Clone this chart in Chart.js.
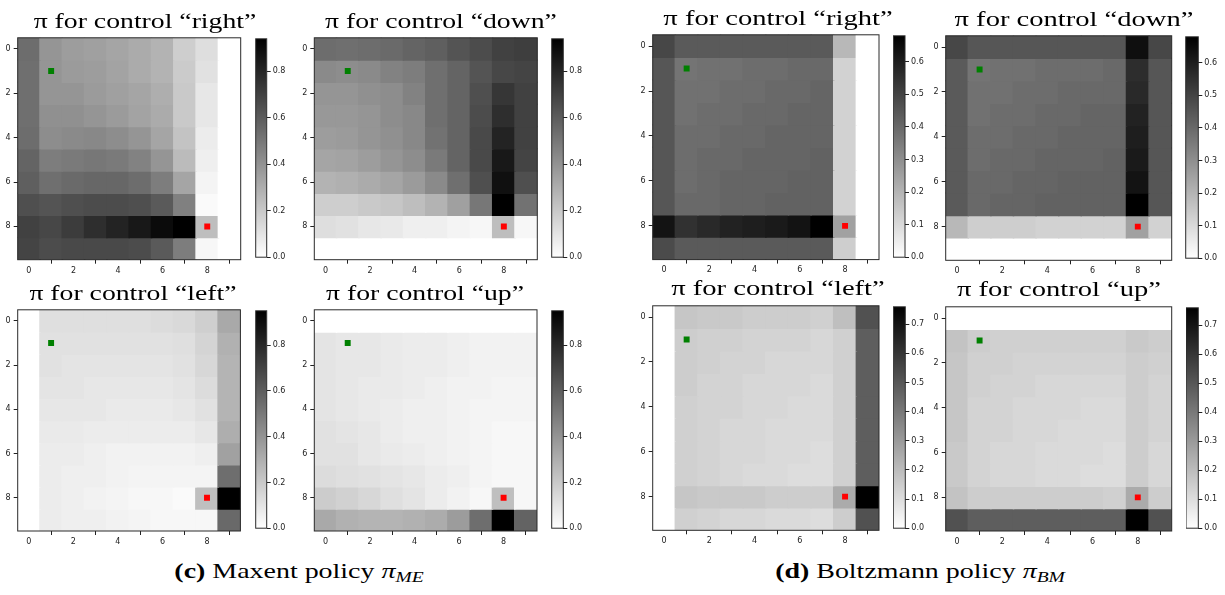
<!DOCTYPE html>
<html>
<head>
<meta charset="utf-8">
<script src="https://cdn.jsdelivr.net/npm/chart.js"></script>
<style>
  body { margin: 0; background: #fff; width: 1225px; height: 595px; position: relative; overflow: hidden; }
  canvas { position: absolute; }
  .caption, .ptitle { position: absolute; font-family: "Liberation Serif", serif; white-space: nowrap; color: #000; }
  .caption { font-size: 21px; line-height: 21px; top: 561px; transform: translateX(-50%) scaleX(1.33); }
  .caption sub { font-size: 0.7em; vertical-align: -0.25em; }
  .ptitle { font-size: 21px; line-height: 21px; }
</style>
</head>
<body>
<div class="caption" style="left:299px"><b>(c)</b> Maxent policy <i>π<sub>ME</sub></i></div>
<div class="caption" style="left:920px"><b>(d)</b> Boltzmann policy <i>π<sub>BM</sub></i></div>
<script>
// grid world 10x10, rows top->bottom, cols left->right
const cols = [0, 1, 2, 3, 4, 5, 6, 7, 8, 9];
const rows = [0, 1, 2, 3, 4, 5, 6, 7, 8, 9];
const gridTicks = [0, 2, 4, 6, 8];
const cbTicksME = [0, 0.2, 0.4, 0.6, 0.8];
const cbTicksBM6 = [0, 0.1, 0.2, 0.3, 0.4, 0.5, 0.6];
const cbTicksBM7 = [0, 0.1, 0.2, 0.3, 0.4, 0.5, 0.6, 0.7];
const startCell = { x: 1, y: 1 };
const goalCell = { x: 8, y: 8 };

// (c) Maxent policy
const piMERight = [
  [0.54, 0.39, 0.36, 0.35, 0.33, 0.31, 0.28, 0.18, 0.12, 0],
  [0.53, 0.39, 0.37, 0.36, 0.34, 0.31, 0.28, 0.19, 0.11, 0],
  [0.53, 0.39, 0.39, 0.37, 0.35, 0.33, 0.30, 0.20, 0.09, 0],
  [0.53, 0.41, 0.41, 0.39, 0.37, 0.34, 0.31, 0.20, 0.09, 0],
  [0.54, 0.42, 0.43, 0.44, 0.42, 0.39, 0.33, 0.22, 0.07, 0],
  [0.57, 0.48, 0.49, 0.50, 0.49, 0.46, 0.39, 0.25, 0.06, 0],
  [0.59, 0.53, 0.55, 0.56, 0.56, 0.54, 0.48, 0.33, 0.04, 0],
  [0.65, 0.63, 0.65, 0.66, 0.66, 0.65, 0.61, 0.47, 0.02, 0],
  [0.70, 0.68, 0.72, 0.77, 0.81, 0.85, 0.90, 0.94, 0.24, 0],
  [0.69, 0.66, 0.67, 0.67, 0.67, 0.66, 0.61, 0.48, 0.03, 0]
];
const piMEDown = [
  [0.54, 0.53, 0.54, 0.55, 0.57, 0.59, 0.63, 0.66, 0.70, 0.71],
  [0.43, 0.42, 0.43, 0.46, 0.48, 0.53, 0.57, 0.63, 0.68, 0.69],
  [0.39, 0.39, 0.41, 0.42, 0.46, 0.53, 0.57, 0.65, 0.74, 0.70],
  [0.38, 0.38, 0.39, 0.42, 0.44, 0.53, 0.57, 0.66, 0.77, 0.70],
  [0.36, 0.37, 0.39, 0.41, 0.44, 0.52, 0.57, 0.67, 0.81, 0.70],
  [0.33, 0.34, 0.36, 0.39, 0.42, 0.49, 0.57, 0.67, 0.85, 0.69],
  [0.28, 0.29, 0.31, 0.33, 0.37, 0.43, 0.53, 0.65, 0.88, 0.65],
  [0.18, 0.18, 0.20, 0.21, 0.24, 0.28, 0.35, 0.50, 0.94, 0.52],
  [0.12, 0.11, 0.09, 0.08, 0.06, 0.06, 0.04, 0.03, 0.24, 0.03],
  [0, 0, 0, 0, 0, 0, 0, 0, 0, 0]
];
const piMELeft = [
  [0, 0.12, 0.12, 0.12, 0.12, 0.12, 0.13, 0.14, 0.18, 0.32],
  [0, 0.11, 0.11, 0.11, 0.11, 0.11, 0.11, 0.12, 0.16, 0.29],
  [0, 0.11, 0.10, 0.10, 0.10, 0.10, 0.10, 0.11, 0.15, 0.28],
  [0, 0.10, 0.10, 0.09, 0.09, 0.09, 0.09, 0.10, 0.13, 0.28],
  [0, 0.09, 0.09, 0.09, 0.08, 0.08, 0.08, 0.09, 0.11, 0.28],
  [0, 0.08, 0.08, 0.07, 0.07, 0.07, 0.07, 0.07, 0.09, 0.30],
  [0, 0.07, 0.07, 0.06, 0.05, 0.05, 0.05, 0.05, 0.06, 0.35],
  [0, 0.07, 0.06, 0.06, 0.05, 0.04, 0.04, 0.04, 0.04, 0.54],
  [0, 0.07, 0.06, 0.05, 0.04, 0.03, 0.03, 0.02, 0.24, 0.95],
  [0, 0.07, 0.06, 0.06, 0.05, 0.04, 0.03, 0.03, 0.03, 0.56]
];
const piMEUp = [
  [0, 0, 0, 0, 0, 0, 0, 0, 0, 0],
  [0.10, 0.09, 0.09, 0.08, 0.07, 0.07, 0.06, 0.05, 0.05, 0.05],
  [0.10, 0.09, 0.09, 0.08, 0.07, 0.07, 0.06, 0.05, 0.05, 0.05],
  [0.10, 0.09, 0.08, 0.08, 0.07, 0.06, 0.05, 0.05, 0.04, 0.04],
  [0.10, 0.09, 0.08, 0.07, 0.06, 0.06, 0.05, 0.04, 0.04, 0.04],
  [0.11, 0.10, 0.09, 0.07, 0.06, 0.06, 0.05, 0.04, 0.03, 0.03],
  [0.11, 0.11, 0.09, 0.08, 0.07, 0.06, 0.05, 0.04, 0.03, 0.03],
  [0.13, 0.12, 0.11, 0.10, 0.09, 0.07, 0.06, 0.04, 0.03, 0.03],
  [0.19, 0.17, 0.15, 0.12, 0.10, 0.07, 0.05, 0.03, 0.24, 0.03],
  [0.32, 0.29, 0.28, 0.28, 0.29, 0.31, 0.37, 0.54, 0.95, 0.58]
];

// (d) Boltzmann policy
const piBMRight = [
  [0.49, 0.44, 0.44, 0.44, 0.44, 0.44, 0.44, 0.44, 0.19, 0],
  [0.45, 0.37, 0.38, 0.38, 0.39, 0.39, 0.40, 0.40, 0.12, 0],
  [0.45, 0.38, 0.38, 0.39, 0.39, 0.40, 0.40, 0.41, 0.12, 0],
  [0.45, 0.38, 0.39, 0.39, 0.40, 0.40, 0.41, 0.41, 0.12, 0],
  [0.45, 0.39, 0.39, 0.40, 0.40, 0.41, 0.41, 0.41, 0.12, 0],
  [0.45, 0.39, 0.40, 0.40, 0.41, 0.41, 0.41, 0.42, 0.12, 0],
  [0.45, 0.39, 0.40, 0.41, 0.41, 0.41, 0.42, 0.42, 0.12, 0],
  [0.45, 0.40, 0.40, 0.41, 0.41, 0.42, 0.42, 0.42, 0.12, 0],
  [0.63, 0.55, 0.57, 0.59, 0.60, 0.61, 0.63, 0.68, 0.25, 0],
  [0.48, 0.44, 0.44, 0.44, 0.44, 0.44, 0.44, 0.44, 0.13, 0]
];
const piBMDown = [
  [0.49, 0.45, 0.45, 0.45, 0.45, 0.45, 0.45, 0.45, 0.64, 0.49],
  [0.44, 0.37, 0.38, 0.38, 0.39, 0.39, 0.39, 0.40, 0.56, 0.45],
  [0.44, 0.38, 0.38, 0.39, 0.39, 0.40, 0.40, 0.40, 0.57, 0.45],
  [0.44, 0.38, 0.39, 0.39, 0.40, 0.40, 0.41, 0.41, 0.59, 0.45],
  [0.44, 0.39, 0.39, 0.40, 0.40, 0.41, 0.41, 0.41, 0.60, 0.45],
  [0.44, 0.39, 0.40, 0.40, 0.41, 0.41, 0.41, 0.42, 0.61, 0.45],
  [0.44, 0.40, 0.40, 0.41, 0.41, 0.42, 0.42, 0.42, 0.63, 0.45],
  [0.44, 0.40, 0.41, 0.41, 0.42, 0.42, 0.42, 0.42, 0.68, 0.45],
  [0.19, 0.13, 0.13, 0.13, 0.12, 0.12, 0.12, 0.12, 0.25, 0.12],
  [0, 0, 0, 0, 0, 0, 0, 0, 0, 0]
];
const piBMLeft = [
  [0, 0.17, 0.16, 0.16, 0.15, 0.15, 0.15, 0.14, 0.19, 0.52],
  [0, 0.15, 0.14, 0.14, 0.13, 0.13, 0.13, 0.12, 0.14, 0.48],
  [0, 0.15, 0.14, 0.13, 0.13, 0.12, 0.12, 0.12, 0.14, 0.48],
  [0, 0.15, 0.13, 0.13, 0.12, 0.12, 0.12, 0.11, 0.14, 0.48],
  [0, 0.14, 0.13, 0.13, 0.12, 0.12, 0.11, 0.11, 0.14, 0.48],
  [0, 0.14, 0.13, 0.12, 0.12, 0.11, 0.11, 0.11, 0.14, 0.48],
  [0, 0.14, 0.13, 0.12, 0.12, 0.11, 0.11, 0.10, 0.14, 0.48],
  [0, 0.14, 0.13, 0.12, 0.11, 0.11, 0.10, 0.10, 0.14, 0.48],
  [0, 0.17, 0.16, 0.16, 0.16, 0.15, 0.15, 0.15, 0.25, 0.76],
  [0, 0.14, 0.13, 0.12, 0.12, 0.11, 0.11, 0.10, 0.15, 0.52]
];
const piBMUp = [
  [0, 0, 0, 0, 0, 0, 0, 0, 0, 0],
  [0.18, 0.15, 0.14, 0.14, 0.14, 0.14, 0.14, 0.14, 0.16, 0.15],
  [0.17, 0.14, 0.14, 0.13, 0.13, 0.13, 0.13, 0.13, 0.15, 0.14],
  [0.17, 0.14, 0.13, 0.13, 0.12, 0.12, 0.12, 0.12, 0.15, 0.13],
  [0.17, 0.13, 0.13, 0.12, 0.12, 0.12, 0.11, 0.11, 0.15, 0.13],
  [0.17, 0.13, 0.13, 0.12, 0.12, 0.11, 0.11, 0.11, 0.15, 0.13],
  [0.16, 0.13, 0.12, 0.12, 0.11, 0.11, 0.11, 0.10, 0.15, 0.12],
  [0.16, 0.13, 0.12, 0.12, 0.11, 0.11, 0.10, 0.10, 0.15, 0.12],
  [0.18, 0.15, 0.15, 0.15, 0.15, 0.15, 0.15, 0.14, 0.25, 0.15],
  [0.52, 0.48, 0.48, 0.48, 0.48, 0.48, 0.48, 0.48, 0.76, 0.52]
];

// panel placement: axes [left, top, size], colorbar [left, width], title centre x and stretch
const panels = [
  { title: 'π for control “right”', values: piMERight, cbTicks: cbTicksME, ax: [17.7, 36.7, 223], cb: [255.7, 11], tx: 145.3, sx: 1.32 },
  { title: 'π for control “down”', values: piMEDown, cbTicks: cbTicksME, ax: [314.3, 36.7, 223], cb: [551.7, 11.6], tx: 440.9, sx: 1.32 },
  { title: 'π for control “left”', values: piMELeft, cbTicks: cbTicksME, ax: [17.7, 308.3, 222.7], cb: [255.7, 11], tx: 132.5, sx: 1.32 },
  { title: 'π for control “up”', values: piMEUp, cbTicks: cbTicksME, ax: [314.3, 308.3, 222.7], cb: [551.7, 11.6], tx: 424.9, sx: 1.32 },
  { title: 'π for control “right”', values: piBMRight, cbTicks: cbTicksBM6, ax: [652.7, 33.3, 226.3], cb: [893.3, 11.7], tx: 777.5, sx: 1.36 },
  { title: 'π for control “down”', values: piBMDown, cbTicks: cbTicksBM6, ax: [945.7, 34.3, 226], cb: [1185.7, 12.6], tx: 1074, sx: 1.36 },
  { title: 'π for control “left”', values: piBMLeft, cbTicks: cbTicksBM7, ax: [652.7, 304, 226.3], cb: [893.3, 12], tx: 777.5, sx: 1.36 },
  { title: 'π for control “up”', values: piBMUp, cbTicks: cbTicksBM7, ax: [945.7, 305, 226], cb: [1186, 12.3], tx: 1059, sx: 1.36 }
];

const TITLE_BASE = 8;     // axes top to title baseline
const TITLE_ASC = 17.6;   // div top to baseline for 21px / line-height 21px
const XAXIS_H = 18;
const tickFont = { family: 'DejaVu Sans', size: 8 };
const tickColor = '#222';

// gray_r colormap
function grayFor(v, vmax) {
  const g = Math.max(0, Math.min(255, Math.round(255 * (1 - v / vmax))));
  return `rgb(${g},${g},${g})`;
}

const framePlugin = {
  id: 'frame',
  afterDraw(chart) {
    const { ctx, chartArea: a } = chart;
    ctx.save();
    ctx.strokeStyle = '#2a2a2a';
    ctx.lineWidth = 1;
    ctx.strokeRect(a.left, a.top, a.width, a.height);
    ctx.restore();
  }
};

function addCanvas(left, top, width, height) {
  const cv = document.createElement('canvas');
  cv.width = width;
  cv.height = height;
  cv.style.left = left + 'px';
  cv.style.top = top + 'px';
  cv.style.width = width + 'px';
  cv.style.height = height + 'px';
  document.body.appendChild(cv);
  return cv;
}

function addTitle(p) {
  const t = document.createElement('div');
  t.className = 'ptitle';
  t.textContent = p.title;
  t.style.left = p.tx + 'px';
  t.style.top = (p.ax[1] - TITLE_BASE - TITLE_ASC) + 'px';
  t.style.transform = `translateX(-50%) scaleX(${p.sx})`;
  document.body.appendChild(t);
}

const axisGrid = { drawOnChartArea: false, drawTicks: true, tickLength: 4, tickColor: '#222', lineWidth: 1 };

function drawHeatmap(p) {
  const vmax = Math.max(...p.values.flat());
  const [axL, axT, axS] = p.ax;
  const left = Math.floor(axL - 20);
  const wy = axL - left;
  const top = Math.floor(axT) - 6;
  const padT = axT - top;
  const width = Math.ceil(axL + axS + 6) - left;
  const padR = width - wy - axS;
  const height = Math.ceil(axT + axS + XAXIS_H) - top;
  const hx = height - padT - axS;
  const cv = addCanvas(left, top, width, height);

  const cellSets = rows.map(r => ({
    type: 'bar',
    xAxisID: 'x',
    yAxisID: 'y',
    data: cols.map(c => ({ x: c, y: [r - 0.5, r + 0.5], v: p.values[r][c] })),
    backgroundColor: ctx => grayFor(ctx.raw.v, vmax),
    borderWidth: 0,
    grouped: false,
    barPercentage: 1,
    categoryPercentage: 1,
    inflateAmount: 0.75,
    order: 1
  }));

  const markers = {
    type: 'scatter',
    xAxisID: 'x',
    yAxisID: 'y',
    data: [startCell, goalCell],
    pointBackgroundColor: ['#008000', '#ff0000'],
    pointBorderWidth: 0,
    pointStyle: 'rect',
    pointRadius: 4.2,
    order: 0
  };

  new Chart(cv, {
    type: 'bar',
    data: { datasets: [markers, ...cellSets] },
    options: {
      responsive: false,
      animation: false,
      events: [],
      layout: { padding: { top: padT, right: padR, left: 0, bottom: 0 } },
      plugins: { legend: { display: false }, tooltip: { enabled: false } },
      scales: {
        x: {
          type: 'linear', min: -0.5, max: 9.5, offset: false,
          afterBuildTicks: s => { s.ticks = gridTicks.map(v => ({ value: v })); },
          afterFit: s => { s.height = hx; },
          ticks: { font: tickFont, color: tickColor, padding: 2, maxRotation: 0, callback: v => String(v) },
          grid: axisGrid,
          border: { display: false }
        },
        y: {
          type: 'linear', min: -0.5, max: 9.5, reverse: true,
          afterBuildTicks: s => { s.ticks = gridTicks.map(v => ({ value: v })); },
          afterFit: s => { s.width = wy; },
          ticks: { font: tickFont, color: tickColor, padding: 3, callback: v => String(v) },
          grid: axisGrid,
          border: { display: false }
        }
      }
    },
    plugins: [framePlugin]
  });

  addTitle(p);
  drawColorbar(p, vmax);
}

function drawColorbar(p, vmax) {
  const [, axT, axS] = p.ax;
  const [cbL, cbW] = p.cb;
  const left = Math.floor(cbL);
  const padL = cbL - left;
  const top = Math.floor(axT) - 4;
  const padT = axT - top;
  const height = Math.ceil(axT + axS) + 4 - top;
  const padB = height - padT - axS;
  const labelW = 32;
  const width = Math.ceil(padL + cbW + labelW);
  const cv = addCanvas(left, top, width, height);

  new Chart(cv, {
    type: 'bar',
    data: {
      labels: ['π'],
      datasets: [{
        data: [[0, vmax]],
        backgroundColor: ctx => {
          const a = ctx.chart.chartArea;
          if (!a) return '#888';
          const g = ctx.chart.ctx.createLinearGradient(0, a.bottom, 0, a.top);
          g.addColorStop(0, '#ffffff');
          g.addColorStop(1, '#000000');
          return g;
        },
        borderWidth: 0,
        barPercentage: 1,
        categoryPercentage: 1,
        inflateAmount: 0
      }]
    },
    options: {
      responsive: false,
      animation: false,
      events: [],
      layout: { padding: { left: padL, top: padT, bottom: padB, right: 0 } },
      plugins: { legend: { display: false }, tooltip: { enabled: false } },
      scales: {
        x: { display: false },
        y: {
          position: 'right', min: 0, max: vmax,
          afterBuildTicks: s => { s.ticks = p.cbTicks.map(v => ({ value: v })); },
          afterFit: s => { s.width = width - padL - cbW; },
          ticks: { font: tickFont, color: tickColor, padding: 2, callback: v => v.toFixed(1) },
          grid: axisGrid,
          border: { display: false }
        }
      }
    },
    plugins: [framePlugin]
  });
}

panels.forEach(drawHeatmap);
</script>
</body>
</html>
